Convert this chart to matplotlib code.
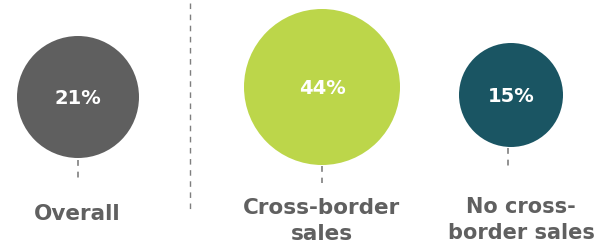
import matplotlib
matplotlib.use("Agg")
import matplotlib.pyplot as plt
from matplotlib.patches import Circle

# Data
categories = ["Overall", "Cross-border\nsales", "No cross-\nborder sales"]
values = [21, 44, 15]
value_labels = ["21%", "44%", "15%"]

# Layout / style (pixel coordinates, y down)
centers_x = [78, 322, 511]
centers_y = [97, 87, 95]
radii = [61, 78, 52]
colors = ["#5f5f5f", "#bcd64a", "#1a5563"]
stem_x = [78, 322, 508]
stem_y0 = [160, 166, 148]
stem_y1 = [182, 183, 170]
label_x = [77, 322, 521]
label_y = [214, 221, 220]

fig = plt.figure(figsize=(5.98, 2.49), dpi=100)
ax = fig.add_axes([0, 0, 1, 1])
ax.set_xlim(0, 598)
ax.set_ylim(249, 0)
ax.set_aspect("equal")
ax.axis("off")

for i in range(len(values)):
    ax.add_patch(Circle((centers_x[i], centers_y[i]), radii[i],
                        facecolor=colors[i], edgecolor="none"))
    ax.text(centers_x[i], centers_y[i] + 1, value_labels[i], color="white",
            fontsize=14, fontweight="bold", ha="center", va="center",
            family="DejaVu Sans")
    ax.plot([stem_x[i], stem_x[i]], [stem_y0[i], stem_y1[i]],
            color="#7f7f7f", lw=1.2, linestyle=(0, (3.5, 3.5)))
    ax.text(label_x[i], label_y[i], categories[i],
            color="#606060", fontsize=15.5 if i < 2 else 15, fontweight="bold",
            ha="center", va="center", linespacing=1.35,
            family="DejaVu Sans")

ax.plot([190, 190], [3, 213], color="#7f7f7f", lw=1.0,
        linestyle=(0, (4, 4)))

fig.savefig("out.png", dpi=100)
